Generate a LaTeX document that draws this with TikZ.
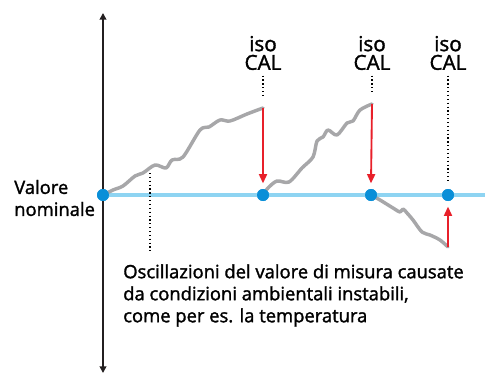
\documentclass[tikz,border=0pt]{standalone}
\usepackage{fontspec}
\setmainfont{Open Sans}[FakeBold=1.6]
\usetikzlibrary{arrows.meta,positioning}

\definecolor{axisgray}{HTML}{231F20}
\definecolor{nomblue}{HTML}{8ED4F2}
\definecolor{dotblue}{HTML}{0A8FD8}
\definecolor{drift}{HTML}{A7A7A9}
\definecolor{calred}{HTML}{E8202A}

\begin{document}
\begin{tikzpicture}[x=0.75pt,y=-0.75pt]
            \tikzstyle{axis} = [line width=1.5pt,color=axisgray,{Triangle[length=5pt,width=5pt]}-{Triangle[length=5pt,width=5pt]}]
            \tikzstyle{nominal} = [line width=3pt,color=nomblue]
            \tikzstyle{dot} = [circle,fill=dotblue,inner sep=0pt,minimum size=9pt]
            \tikzstyle{curve} = [line width=2.6pt,color=drift,line cap=round,line join=round]
            \tikzstyle{reset} = [line width=1.4pt,color=calred,-{Triangle[length=7pt,width=6pt]}]
            \tikzstyle{guide} = [line width=0.9pt,dotted]
            \tikzstyle{cal} = [align=center,font=\fontsize{15.5}{14}\selectfont,inner sep=0pt]
            \tikzstyle{label} = [align=left,font=\fontsize{13.8}{16.5}\selectfont,inner sep=0pt]

            \useasboundingbox (0,0) rectangle (485,374);

            % axes
            \coordinate (top) at (103,13);
            \coordinate (bottom) at (103,373);
            \coordinate (end) at (485,195);
            \draw [axis] (bottom) -- (top);

            \node[dot] (d1) at (103,195) {};
            \node[dot] (d2) at (263,195) {};
            \node[dot] (d3) at (371,195) {};
            \node[dot] (d4) at (448,195) {};
            \draw [nominal] (d1.center) -- (end);

            % drift of the measured value
            \coordinate (p1) at (263,108);
            \coordinate (p2) at (372,104);
            \coordinate (p3) at (448,247);
            \coordinate (osc) at (150,173);
            \draw [curve] plot [smooth,tension=0.5] coordinates {(103,195) (113,190) (123,186) (135,176) (143,173) (155,165) (166,168) (172,160) (183,157) (200,130) (209,127) (220,120) (230,121) (247,114) (263,108)};
            \draw [curve] plot [smooth,tension=0.5] coordinates {(263,195) (268,188) (277,181) (289,182) (302,168) (313,157) (317,141) (323,137) (328,130) (337,135) (347,123) (353,121) (360,110) (372,104)};
            \draw [curve] plot [smooth,tension=0.5] coordinates {(371,195) (380,200) (393,208) (400,212) (403,209) (407,213) (413,220) (422,232) (430,235) (440,240) (448,247)};
            \node[dot] at (d1) {};
            \node[dot] at (d2) {};
            \node[dot] at (d3) {};
            \node[dot] at (d4) {};

            % calibrations
            \draw [reset] (p1) -- ([yshift=4pt]d2.north);
            \draw [reset] (p2) -- ([yshift=4pt]d3.north);
            \draw [reset] (p3) -- ([yshift=-4pt]d4.south);

            \node[cal] (cal1) at (263,53) {iso\\CAL};
            \node[cal] (cal2) at (372,53) {iso\\CAL};
            \node[cal] (cal3) at (448,53) {iso\\CAL};
            \draw [guide] ([yshift=-4pt]cal1.south) -- ([yshift=7pt]p1);
            \draw [guide] ([yshift=-4pt]cal2.south) -- ([yshift=7pt]p2);
            \draw [guide] ([yshift=-4pt]cal3.south) -- ([yshift=4pt]d4.north);

            \node[label,anchor=west] (nom) at (14,198) {Valore\\nominale};
            \node[label,anchor=north west] (note) at (123,264) {Oscillazioni del valore di misura causate\\da condizioni ambientali instabili,\\come per es. la temperatura};
            \draw [guide] (osc) -- ([yshift=10pt]osc |- note.north);

        \end{tikzpicture}
\end{document}
